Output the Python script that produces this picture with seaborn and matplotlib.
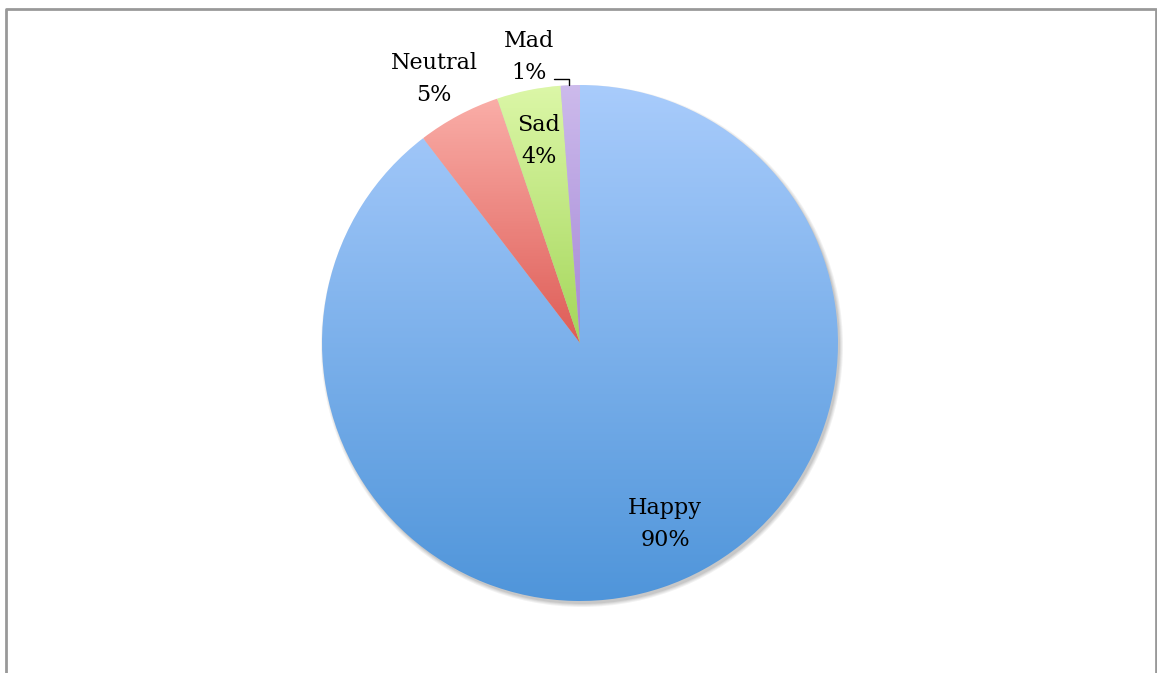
import numpy as np
import matplotlib
matplotlib.use("Agg")
import matplotlib.pyplot as plt
import seaborn as sns
from matplotlib.colors import LinearSegmentedColormap
from matplotlib.patches import Circle

sns.set_theme(style="white")
plt.rcParams['font.family'] = ['DejaVu Serif']
plt.rcParams['text.color'] = 'black'

categories = ["Happy", "Neutral", "Sad", "Mad"]
values = [89.6, 5.2, 4.0, 1.2]
pct_labels = ["90%", "5%", "4%", "1%"]
top_colors = ["#A9CCFC", "#FAAEA8", "#DCF7A8", "#CDBBEC"]
bottom_colors = ["#4F95DA", "#DE5C56", "#A4D65A", "#A487D6"]

W, H = 1157, 673
fig = plt.figure(figsize=(W / 100, H / 100), dpi=100)
ax = fig.add_axes([0, 0, 1, 1])

cx, cy, r = 580, H - 343, 258

# soft shadow
for i, a in enumerate([0.05, 0.05, 0.06, 0.07]):
    ax.add_patch(Circle((cx + 2, cy - 3), r + 3 - i, color="black", alpha=a, lw=0, zorder=0))

wedges, _ = ax.pie(values, startangle=90, counterclock=False, center=(cx, cy),
                   radius=r, frame=True,
                   wedgeprops=dict(linewidth=0, edgecolor="none"))

grad = np.linspace(0, 1, 256).reshape(-1, 1)
for w, tc, bc in zip(wedges, top_colors, bottom_colors):
    w.set_facecolor("none")
    ext = w.get_path().get_extents()
    cmap = LinearSegmentedColormap.from_list("g", [bc, tc])
    im = ax.imshow(grad, cmap=cmap, origin="lower", aspect="auto",
                   extent=[ext.x0 - 1, ext.x1 + 1, ext.y0 - 1, ext.y1 + 1], zorder=1)
    im.set_clip_path(w)

fs = 16
ls = 1.55
ax.text(665, H - 524, f"{categories[0]}\n{pct_labels[0]}", ha="center", va="center",
        fontsize=fs, linespacing=ls, zorder=5)
ax.text(539, H - 141, f"{categories[2]}\n{pct_labels[2]}", ha="center", va="center",
        fontsize=fs, linespacing=ls, zorder=5)
ax.text(434, H - 79, f"{categories[1]}\n{pct_labels[1]}", ha="center", va="center",
        fontsize=fs, linespacing=ls, zorder=5)
ax.text(529, H - 57, f"{categories[3]}\n{pct_labels[3]}", ha="center", va="center",
        fontsize=fs, linespacing=ls, zorder=5)
ax.plot([554, 569, 569], [H - 79, H - 79, H - 85], color="black", lw=1, zorder=5)

# border
ax.plot([5.5, 5.5, 1155.5, 1155.5], [0, H - 8.5, H - 8.5, 0], color="#999999", lw=2, zorder=6)

ax.set_xlim(0, W)
ax.set_ylim(0, H)
ax.set_aspect("equal")
ax.axis("off")
fig.savefig("out.png", dpi=100)
